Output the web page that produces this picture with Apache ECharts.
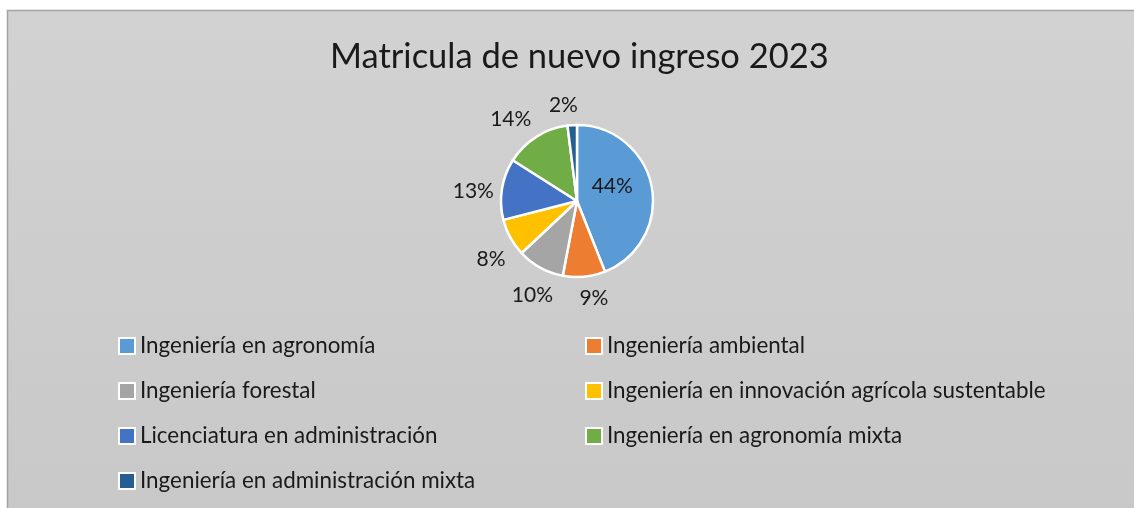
<!DOCTYPE html>
<html>
<head>
<meta charset="utf-8">
<script src="https://cdn.jsdelivr.net/npm/echarts@6/dist/echarts.min.js"></script>
<style>
  html, body { margin: 0; padding: 0; background: #fff; }
  #main { width: 1134px; height: 508px; }
</style>
</head>
<body>
<div id="main"></div>
<script>
var carreras = [
    'Ingeniería en agronomía',
    'Ingeniería ambiental',
    'Ingeniería forestal',
    'Ingeniería en innovación agrícola sustentable',
    'Licenciatura en administración',
    'Ingeniería en agronomía mixta',
    'Ingeniería en administración mixta'
]
var porcentajes = [44, 9, 10, 8, 13, 14, 2]
var colores = ['#5B9BD5', '#ED7D31', '#A5A5A5', '#FFC000', '#4472C4', '#70AD47', '#255E91']

// pequeños ajustes de las etiquetas, como las acomoda Excel
var ajusteEtiqueta = [[-5, -7], [7, -7], [6, 2], [6, 8], [0, 7], [-10, 7], [-7, 9]]

var fuente = 'Lato'
var colorTexto = '#1a1a1a'
var myChart = echarts.init(document.getElementById('main'))

var pieData = carreras.map(function (name, i) {
    return {
        name: name,
        value: porcentajes[i],
        itemStyle: { color: colores[i] },
        // solo la rebanada grande lleva la etiqueta dentro
        label: { show: i === 0, offset: ajusteEtiqueta[i] }
    }
})

// serie transparente, solo para poner las etiquetas de afuera
var labelData = carreras.map(function (name, i) {
    return {
        name: name,
        value: porcentajes[i],
        label: { show: i !== 0, offset: ajusteEtiqueta[i] }
    }
})

var legendBase = {
    orient: 'vertical',
    top: 333,
    padding: 0,
    itemGap: 19,
    itemWidth: 16,
    itemHeight: 16,
    icon: 'rect',
    itemStyle: { borderColor: '#fff', borderWidth: 2 },
    textStyle: { fontFamily: fuente, fontSize: 22.4, color: colorTexto, lineHeight: 26 }
}

var option = {
    backgroundColor: '#fff',
    animation: false,
    graphic: [
        {
            type: 'rect',
            z: 0,
            shape: { x: 7.5, y: 10.5, width: 1140, height: 510 },
            style: {
                fill: new echarts.graphic.LinearGradient(0, 0, 0, 1, [
                    { offset: 0, color: '#d2d2d2' },
                    { offset: 1, color: '#c8c8c8' }
                ]),
                stroke: '#a3a3a3',
                lineWidth: 1.5
            }
        }
    ],
    title: {
        text: 'Matricula de nuevo ingreso 2023',
        left: 330,
        top: 39,
        padding: 0,
        textStyle: {
            fontFamily: fuente,
            fontSize: 34.5,
            fontWeight: 'normal',
            color: colorTexto
        }
    },
    legend: [
        Object.assign({}, legendBase, {
            left: 118,
            data: [carreras[0], carreras[2], carreras[4], carreras[6]]
        }),
        Object.assign({}, legendBase, {
            left: 585,
            data: [carreras[1], carreras[3], carreras[5]]
        })
    ],
    series: [
        {
            name: 'Matricula',
            type: 'pie',
            center: [577, 201],
            radius: 76,
            startAngle: 90,
            z: 2,
            itemStyle: { borderColor: '#fff', borderWidth: 2.5 },
            label: {
                position: 'inside',
                formatter: '{c}%',
                fontFamily: fuente,
                fontSize: 21,
                color: colorTexto
            },
            labelLine: { show: false },
            emphasis: { scale: false },
            data: pieData
        },
        {
            name: 'etiquetas',
            type: 'pie',
            center: [577, 201],
            radius: [84, 120],
            startAngle: 90,
            silent: true,
            z: 3,
            itemStyle: { color: 'transparent' },
            label: {
                position: 'inside',
                formatter: '{c}%',
                fontFamily: fuente,
                fontSize: 21,
                color: colorTexto
            },
            labelLine: { show: false },
            data: labelData
        }
    ]
}

option && myChart.setOption(option, true)
</script>
</body>
</html>
